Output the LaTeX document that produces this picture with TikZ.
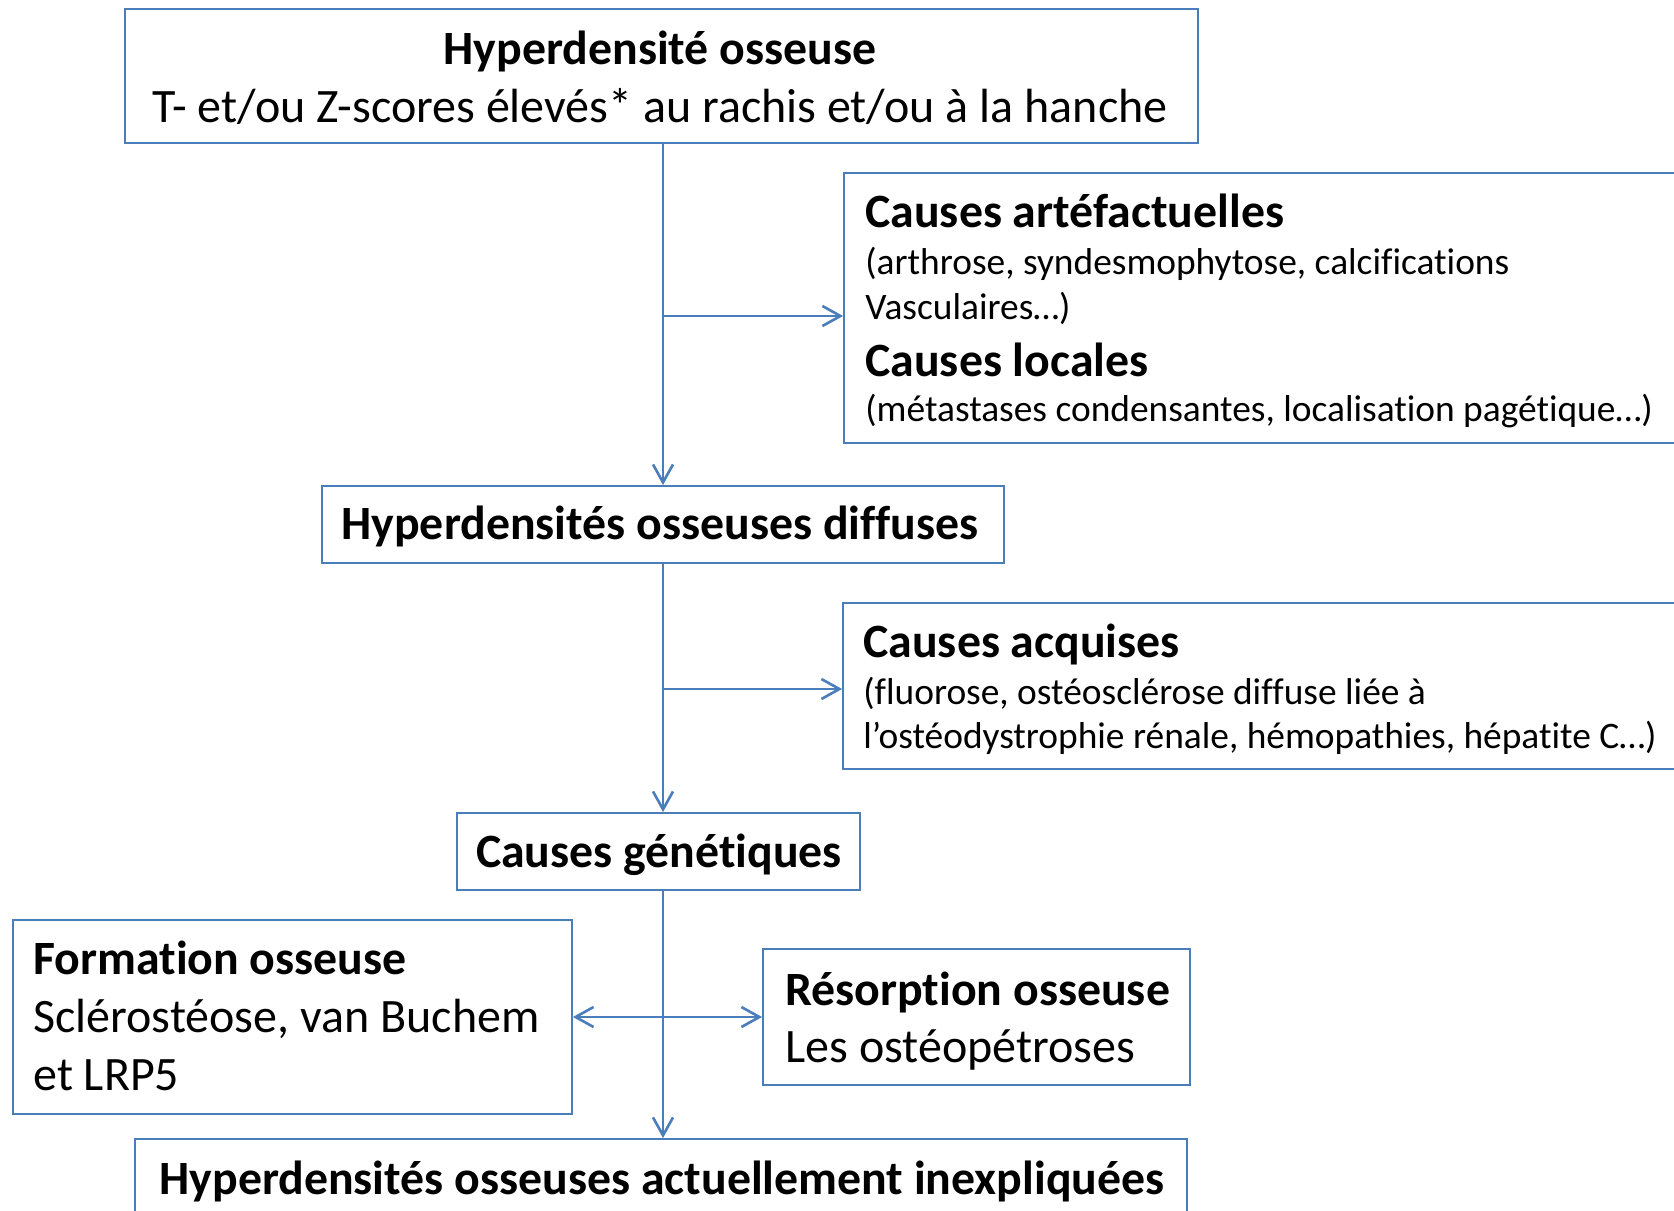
\documentclass[tikz,border=0pt]{standalone}
\usepackage{fontspec}
\setmainfont[Ligatures=NoCommon]{Carlito}
\usetikzlibrary{arrows.meta}
\definecolor{ln}{HTML}{4A7EBB}
\tikzset{
 box/.style={draw=ln, line width=0.9pt, rectangle, inner sep=0pt},
 arr/.style={draw=ln, line width=1.3pt, -{Straight Barb[length=9pt,width=10pt,line width=1.3pt]}},
 big/.style={inner sep=0pt, font=\fontsize{24}{28}\selectfont},
 bigb/.style={inner sep=0pt, font=\fontsize{23.9}{28}\selectfont\bfseries},
 small/.style={inner sep=0pt, font=\fontsize{18.7}{22}\selectfont},
}
\begin{document}
\begin{tikzpicture}[x=0.5pt,y=-0.5pt]
\clip (0,0) rectangle (1674,1210);
\fill[white] (0,0) rectangle (1674,1210);
% boxes
\node[box, minimum width=536.5pt, minimum height=67pt] (top) at (661.5,76) {};
\node[box, minimum width=428pt, minimum height=135pt] (art) at (1272,308) {};
\node[box, minimum width=341pt, minimum height=38.5pt] (diff) at (663,524.5) {};
\node[box, minimum width=428.5pt, minimum height=83pt] (acq) at (1271.5,686) {};
\node[box, minimum width=201.5pt, minimum height=38.5pt] (gen) at (658.5,851.5) {};
\node[box, minimum width=279.5pt, minimum height=97pt] (form) at (292.5,1017) {};
\node[box, minimum width=213.5pt, minimum height=68pt] (res) at (976.5,1017) {};
\node[box, minimum width=526pt, minimum height=55.5pt] (bot) at (661,1194.5) {};
% texts
\node[bigb, anchor=base] (t1) at (660,64) {Hyperdensité osseuse};
\node[big, anchor=base] (t2) at (660,122) {T- et/ou Z-scores élevés* au rachis et/ou à la hanche};
\node[bigb, anchor=base west] (a1) at (865,227) {Causes artéfactuelles};
\node[small, anchor=base west] (a2) at (865,274) {(arthrose, syndesmophytose, calcifications};
\node[small, anchor=base west] (a3) at (865,319) {Vasculaires…)};
\node[bigb, anchor=base west] (a4) at (865,376) {Causes locales};
\node[small, anchor=base west] (a5) at (865,421) {(métastases condensantes, localisation pagétique…)};
\node[bigb, anchor=base] (d1) at (660,539) {Hyperdensités osseuses diffuses};
\node[bigb, anchor=base west] (q1) at (863,657) {Causes acquises};
\node[small, anchor=base west] (q2) at (863,704) {(fluorose, ostéosclérose diffuse liée à};
\node[small, anchor=base west] (q3) at (863,748) {l’ostéodystrophie rénale, hémopathies, hépatite C…)};
\node[bigb, anchor=base] (g1) at (659,867) {Causes génétiques};
\node[bigb, anchor=base west] (f1) at (33,974) {Formation osseuse};
\node[big, anchor=base west] (f2) at (33,1032) {Sclérostéose, van Buchem};
\node[big, anchor=base west] (f3) at (33,1090) {et LRP5};
\node[bigb, anchor=base west] (r1) at (785,1005) {Résorption osseuse};
\node[big, anchor=base west] (r2) at (785,1062) {Les ostéopétroses};
\node[bigb, anchor=base] (b1) at (662,1194) {Hyperdensités osseuses actuellement inexpliquées};
% connectors
\coordinate (spine) at (663,0);
\coordinate (j1) at (663,316);
\coordinate (j2) at (663,689);
\coordinate (j3) at (663,1017);
\draw[arr] (top.south -| spine) -- (diff.north -| spine);
\draw[arr] (j1) -- (art.west |- j1);
\draw[arr] (diff.south -| spine) -- (gen.north -| spine);
\draw[arr] (j2) -- (acq.west |- j2);
\draw[arr] (gen.south -| spine) -- (bot.north -| spine);
\draw[arr] (j3) -- (form.east |- j3);
\draw[arr] (j3) -- (res.west |- j3);
\end{tikzpicture}
\end{document}
